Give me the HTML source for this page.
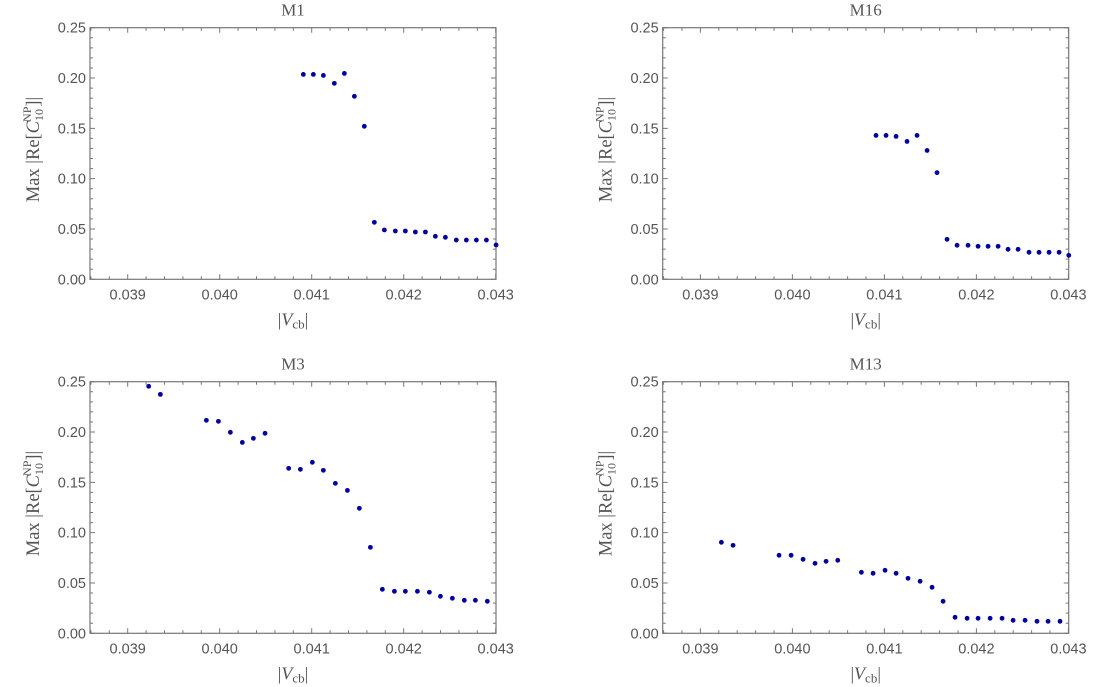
<!DOCTYPE html>
<html><head><meta charset="utf-8"><style>
html,body{margin:0;padding:0;background:#fff;}
svg{display:block;}
.tl{font-family:"Liberation Sans",sans-serif;font-size:14.5px;fill:#555;}
.ser{font-family:"Liberation Serif",serif;fill:#555;}
</style></head><body>
<svg id="chart" width="1111" height="687" viewBox="0 0 1111 687" xmlns="http://www.w3.org/2000/svg"></svg>
<script>
const xTicks = [0.039, 0.040, 0.041, 0.042, 0.043];
const xTickLabels = ["0.039", "0.040", "0.041", "0.042", "0.043"];
const yTicks = [0, 0.05, 0.10, 0.15, 0.20, 0.25];
const yTickLabels = ["0.00", "0.05", "0.10", "0.15", "0.20", "0.25"];
const titles = ["M1", "M16", "M3", "M13"];
const xA = [0.040909,0.041018,0.041127,0.041246,0.041355,0.041464,0.041572,0.041681,0.041790,0.041909,0.042018,0.042127,0.042236,0.042344,0.042453,0.042572,0.042681,0.042790,0.042899,0.043004];
const xB = [0.039228,0.039355,0.039855,0.039986,0.040116,0.040246,0.040366,0.040493,0.040750,0.040877,0.041007,0.041127,0.041257,0.041388,0.041518,0.041638,0.041768,0.041899,0.042018,0.042149,0.042279,0.042399,0.042529,0.042659,0.042779,0.042909];
const yM1 = [0.2036,0.2036,0.2026,0.1947,0.2046,0.1818,0.1520,0.0566,0.0490,0.0480,0.0480,0.0470,0.0470,0.0427,0.0417,0.0390,0.0390,0.0390,0.0390,0.0341];
const yM16 = [0.143,0.143,0.142,0.137,0.143,0.128,0.106,0.0397,0.0338,0.0338,0.0328,0.0328,0.0328,0.0298,0.0298,0.0268,0.0268,0.0268,0.0268,0.0238];
const yM3 = [0.2454,0.2374,0.2116,0.2106,0.1997,0.1897,0.1937,0.1987,0.1639,0.1629,0.1699,0.1619,0.1490,0.1420,0.1242,0.0854,0.0437,0.0417,0.0417,0.0417,0.0408,0.0368,0.0348,0.0328,0.0328,0.0318];
const yM13 = [0.0904,0.0874,0.0775,0.0775,0.0735,0.0695,0.0715,0.0725,0.0606,0.0596,0.0626,0.0596,0.0546,0.0517,0.0457,0.0318,0.0159,0.0149,0.0149,0.0149,0.0149,0.0129,0.0129,0.0119,0.0119,0.0119];

const NS = "http://www.w3.org/2000/svg";
const svg = document.getElementById('chart');
function mk(tag, attrs, parent){const e=document.createElementNS(NS,tag);for(const k in attrs)e.setAttribute(k,attrs[k]);(parent||svg).appendChild(e);return e;}

const panels = [
 {ox:0, top:27.7, bot:279.3, xs:xA, ys:yM1, key:"m1"},
 {ox:572.7, top:27.7, bot:279.3, xs:xA, ys:yM16, key:"m16"},
 {ox:0, top:381.7, bot:633.3, xs:xB, ys:yM3, key:"m3"},
 {ox:572.7, top:381.7, bot:633.3, xs:xB, ys:yM13, key:"m13"}
];
panels.forEach((p,pi)=>{
  const L = 90 + p.ox, R = 496 + p.ox;
  const sx = v => 127.7 + p.ox + (v - 0.039) * 92000;
  const sy = v => p.bot - v / 0.25 * (p.bot - p.top);
  const g = mk('g',{});
  
  
  const t = mk('text',{x:(L+R)/2, y:p.top-12, 'text-anchor':'middle', class:'ser', 'font-size':'17'}, g);
  t.textContent = titles[pi];
  
  
  const fr = mk('rect',{x:L, y:p.top, width:R-L, height:p.bot-p.top, fill:'none', stroke:'#777', 'stroke-width':1.2}, g);
  
  
  let d = "";
  for (let i = -2; i <= 20; i++) {
    const v = 0.039 + i * 0.0002; const x = sx(v);
    if (x < L || x > R + 0.5) continue;
    const len = (i % 5 === 0) ? 5 : 3;
    d += `M${x},${p.bot}v${-len}M${x},${p.top}v${len}`;
  }
  for (let i = 0; i <= 25; i++) {
    const y = sy(i * 0.01); const len = (i % 5 === 0) ? 5 : 3;
    d += `M${L},${y}h${len}M${R},${y}h${-len}`;
  }
  const tk = mk('path',{d:d, stroke:'#777', 'stroke-width':1, fill:'none'}, g);
  
  
  xTicks.forEach((v,i)=>{
    const tx = mk('text',{x:sx(v), y:p.bot+20, 'text-anchor':'middle', class:'tl'}, g);
    tx.textContent = xTickLabels[i];
    
    
  });
  yTicks.forEach((v,i)=>{
    const ty = mk('text',{x:L-4, y:sy(v)+5, 'text-anchor':'end', class:'tl'}, g);
    ty.textContent = yTickLabels[i];
    
    
  });
  const xt = mk('text',{x:(L+R)/2, y:p.bot+46, 'text-anchor':'middle', class:'ser', 'font-size':'18'}, g);
  xt.innerHTML = '|<tspan font-style="italic">V</tspan><tspan font-size="13" dy="3">cb</tspan><tspan dy="-3">|</tspan>';
  
  
  const cy = (p.top + p.bot) / 2 - 4;
  const yt = mk('text',{x:0, y:0, 'text-anchor':'middle', class:'ser', 'font-size':'18.5', transform:`translate(${39+p.ox},${cy}) rotate(-90)`}, g);
  yt.innerHTML = 'Max |Re[<tspan font-style="italic">C</tspan><tspan font-size="12" dy="4">10</tspan><tspan font-size="12" dx="-13" dy="-12">NP</tspan><tspan dy="8">]|</tspan>';
  
  
  p.xs.forEach((xv,i)=>{
    const c = mk('circle',{cx:sx(xv), cy:sy(p.ys[i]), r:2.4, fill:'#0000a0'}, g);
    
    
  });
});
</script>
</body></html>
